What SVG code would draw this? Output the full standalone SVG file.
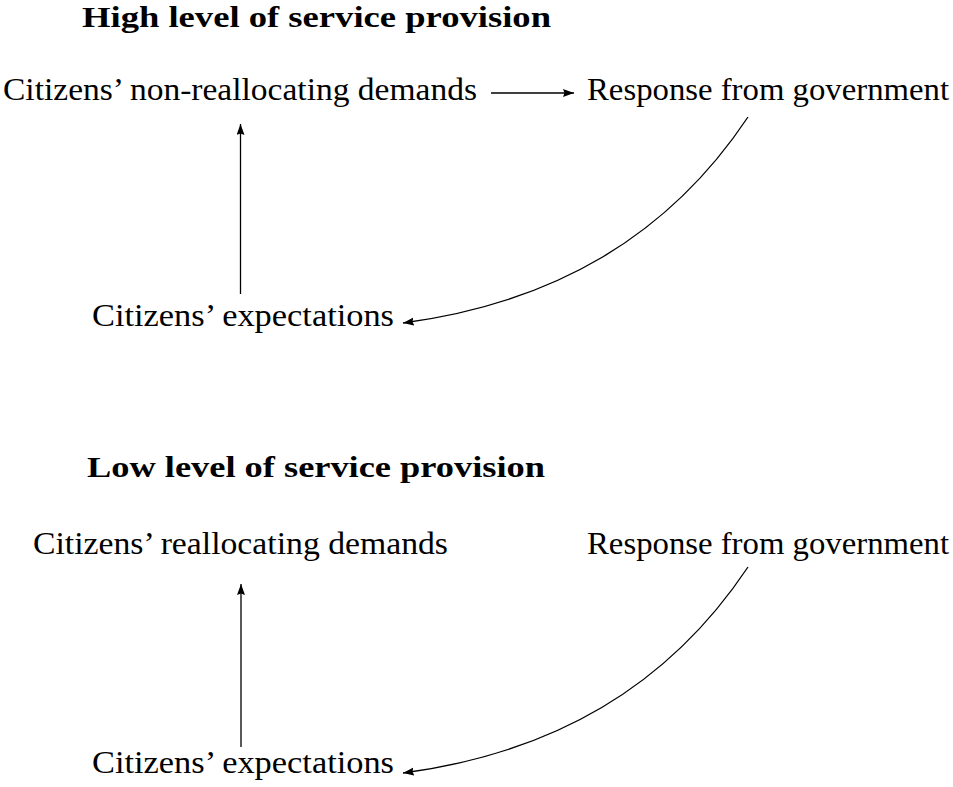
<svg xmlns="http://www.w3.org/2000/svg" width="953" height="787" viewBox="0 0 953 787">
  <style>
    text { font-family: "Liberation Serif", "DejaVu Serif", serif; fill: #000; }
    .title { font-size: 30px; font-weight: bold; }
    .label { font-size: 31px; }
    .edge { fill: none; stroke: #000; stroke-width: 1.3; marker-end: url(#tip); }
  </style>
  <defs>
    <!-- filled LaTeX-style arrow tip -->
    <marker id="tip" markerUnits="userSpaceOnUse" markerWidth="12" markerHeight="9" refX="11" refY="4" orient="auto">
      <path d="M0,0 L11,4 L0,8 L1.5,4 z" fill="#000"/>
    </marker>
  </defs>

  <!-- Panel 1: high level of service provision -->
  <g id="title-high">
    <text class="title" x="82" y="27" textLength="469" lengthAdjust="spacingAndGlyphs">High level of service provision</text>
  </g>
  <g id="high-demands">
    <text class="label" x="3" y="100" textLength="474" lengthAdjust="spacingAndGlyphs">Citizens’ non-reallocating demands</text>
  </g>
  <g id="high-response">
    <text class="label" x="587" y="100" textLength="362" lengthAdjust="spacingAndGlyphs">Response from government</text>
  </g>
  <g id="high-expectations">
    <text class="label" x="92" y="326" textLength="302" lengthAdjust="spacingAndGlyphs">Citizens’ expectations</text>
  </g>

  <!-- Panel 2: low level of service provision -->
  <g id="title-low">
    <text class="title" x="87" y="477" textLength="458" lengthAdjust="spacingAndGlyphs">Low level of service provision</text>
  </g>
  <g id="low-demands">
    <text class="label" x="33" y="554" textLength="415" lengthAdjust="spacingAndGlyphs">Citizens’ reallocating demands</text>
  </g>
  <g id="low-response">
    <text class="label" x="587" y="554" textLength="362" lengthAdjust="spacingAndGlyphs">Response from government</text>
  </g>
  <g id="low-expectations">
    <text class="label" x="92" y="773" textLength="302" lengthAdjust="spacingAndGlyphs">Citizens’ expectations</text>
  </g>

  <!-- Connectors -->
  <g id="connectors">
    <path class="edge" d="M491,93 L574,93"/>
    <path class="edge" d="M240.5,294 L240.5,124"/>
    <path class="edge" d="M748,117 C668,237 553,303 403,323"/>
    <path class="edge" d="M241,747 L241,584"/>
    <path class="edge" d="M748,567 C668,687 553,753 403,773"/>
  </g>
</svg>
